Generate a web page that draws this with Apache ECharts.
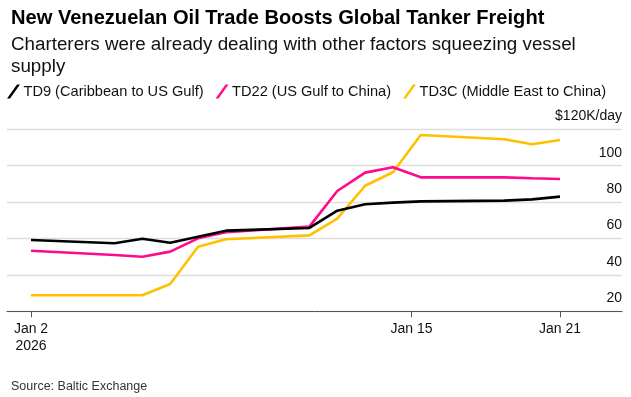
<!DOCTYPE html>
<html>
<head>
<meta charset="utf-8">
<script src="https://cdn.jsdelivr.net/npm/echarts@6/dist/echarts.min.js"></script>
<style>
html,body{margin:0;padding:0;background:#fff;}
#c{width:631px;height:397px;}
</style>
</head>
<body>
<div id="c"></div>
<script>
// ---- data ----
const dates = ['2026-01-02','2026-01-05','2026-01-06','2026-01-07','2026-01-08','2026-01-09',
               '2026-01-12','2026-01-13','2026-01-14','2026-01-15','2026-01-16',
               '2026-01-19','2026-01-20','2026-01-21'];
const td9  = [59.2, 57.4, 59.9, 57.7, 61.0, 64.3, 65.8, 75.3, 78.8, 79.7, 80.4, 80.8, 81.5, 83.0];
const td22 = [53.3, 50.9, 50.0, 52.8, 60.1, 63.4, 66.5, 86.1, 96.2, 99.1, 93.6, 93.6, 93.1, 92.7];
const td3c = [28.8, 28.8, 28.8, 35.0, 55.5, 59.6, 61.7, 70.9, 89.0, 96.4, 116.9, 114.5, 111.8, 114.1];
const seriesNames = ['TD9 (Caribbean to US Gulf)', 'TD22 (US Gulf to China)', 'TD3C (Middle East to China)'];
const xTickDates = ['2026-01-02', '2026-01-15', '2026-01-21'];
const xTickLabels = ['Jan 2\n2026', 'Jan 15', 'Jan 21'];
const yTicks = [20, 40, 60, 80, 100, 120];
const yTickLabels = ['20', '40', '60', '80', '100', '$120K/day'];

// ---- helpers ----
const DAY = 86400000;
function ts(s) { const p = s.split('-').map(Number); return Date.UTC(p[0], p[1] - 1, p[2]); }
const xs = dates.map(ts);
const pair = arr => arr.map((v, i) => [xs[i], v]);

// layout: tick offset (hours) as drawn in the reference
const tickShiftHours = [0, 16, 0];
const tickVals = xTickDates.map((d, i) => ts(d) + tickShiftHours[i] * 3600000);

const colors = ['#000000', '#ff0a8c', '#ffc000'];
const FONT = 'Liberation Sans, Arial, sans-serif';
const legendIcon = 'path://M0,14 L3,14 L13,0 L10,0 Z';

const chart = echarts.init(document.getElementById('c'), null, {renderer: 'canvas'});
chart.setOption({
  animation: false,
  backgroundColor: '#fff',
  color: colors,
  title: [
    { text: 'New Venezuelan Oil Trade Boosts Global Tanker Freight', left: 6, top: 3,
      textStyle: { fontFamily: FONT, fontSize: 20.1, fontWeight: 'bold', color: '#000' } },
    { text: 'Charterers were already dealing with other factors squeezing vessel\nsupply', left: 6, top: 29,
      textStyle: { fontFamily: FONT, fontSize: 18.8, fontWeight: 'normal', color: '#111', lineHeight: 22 } },
    { text: 'Source: Baltic Exchange', left: 6, top: 375,
      textStyle: { fontFamily: FONT, fontSize: 12.5, fontWeight: 'normal', color: '#333' } }
  ],
  legend: {
    left: 7, top: 84, itemWidth: 14, itemHeight: 14, itemGap: 12, padding: 0,
    icon: legendIcon,
    textStyle: { fontFamily: FONT, fontSize: 14.6, color: '#111', padding: [0, 0, 0, -2] },
    data: seriesNames
  },
  grid: { left: 7, right: 9, top: 129.3, bottom: 85.7, containLabel: false },
  xAxis: {
    type: 'value',
    min: xs[0] - 0.862 * DAY,
    max: xs[xs.length - 1] + 2.227 * DAY,
    axisLine: { show: true, lineStyle: { color: '#555', width: 1 } },
    axisTick: { show: true, length: 6, lineStyle: { color: '#555' }, customValues: tickVals },
    axisLabel: {
      customValues: tickVals,
      fontFamily: FONT, fontSize: 14, color: '#111', lineHeight: 17, margin: 9,
      formatter: function (v) {
        let best = 0, bd = Infinity;
        tickVals.forEach((t, i) => { const d = Math.abs(t - v); if (d < bd) { bd = d; best = i; } });
        return xTickLabels[best];
      }
    },
    splitLine: { show: false }
  },
  yAxis: {
    type: 'value',
    position: 'right',
    min: 20, max: 120, interval: 20,
    axisLine: { show: false },
    axisTick: { show: false },
    splitLine: { show: true, lineStyle: { color: '#dedede', width: 1.3 } },
    axisLabel: {
      inside: true, margin: 0, align: 'right', verticalAlign: 'bottom',
      fontFamily: FONT, fontSize: 14, color: '#111', padding: [0, 0, 6, 0],
      formatter: function (v) { const i = yTicks.indexOf(v); return i >= 0 ? yTickLabels[i] : ''; }
    }
  },
  series: [
    { name: seriesNames[0], type: 'line', data: pair(td9), showSymbol: false, symbol: 'none', z: 4,
      lineStyle: { width: 2.6, color: colors[0] } },
    { name: seriesNames[1], type: 'line', data: pair(td22), showSymbol: false, symbol: 'none', z: 3,
      lineStyle: { width: 2.6, color: colors[1] } },
    { name: seriesNames[2], type: 'line', data: pair(td3c), showSymbol: false, symbol: 'none', z: 2,
      lineStyle: { width: 2.6, color: colors[2] } }
  ]
});
</script>
</body>
</html>
